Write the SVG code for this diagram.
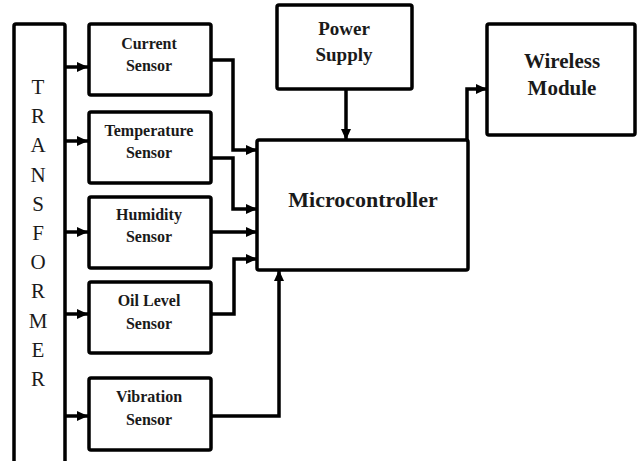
<svg xmlns="http://www.w3.org/2000/svg" width="640" height="461" viewBox="0 0 640 461">
<defs>
<marker id="ah" markerUnits="userSpaceOnUse" markerWidth="12" markerHeight="12" viewBox="0 0 12 12" refX="11" refY="6" orient="auto">
<path d="M0,1 L11,6 L0,11 Z" fill="#000"/>
</marker>
<style>
.box{fill:#fff;stroke:#000;stroke-width:3.5}
.w{fill:none;stroke:#000;stroke-width:3.5;marker-end:url(#ah)}
.t{font-family:"Liberation Serif","Times New Roman",serif;font-weight:bold;text-anchor:middle;fill:#1a1a1a}
.s{font-size:16px}
.tr{font-family:"Liberation Serif","Times New Roman",serif;font-size:21px;text-anchor:middle;fill:#1a1a1a}
</style>
</defs>
<rect width="640" height="461" fill="#fff"/>
<g id="connectors">
<path class="w" d="M65,67 H88"/>
<path class="w" d="M65,141 H88"/>
<path class="w" d="M65,232 H88"/>
<path class="w" d="M65,314 H88"/>
<path class="w" d="M65,416 H88"/>
<path class="w" d="M211,60 H233 V150 H257"/>
<path class="w" d="M211,158 H233 V209 H257"/>
<path class="w" d="M211,232 H257"/>
<path class="w" d="M211,314 H234 V259 H257"/>
<path class="w" d="M211,416 H279 V270"/>
<path class="w" d="M346,89 V140"/>
<path class="w" d="M467,140 V89 H487"/>
</g>
<g id="transformer">
<path class="box" d="M65,470 V26 Q65,24 63,24 H16 Q14,24 14,26 V470"/>
<text class="tr" x="38" y="94">T</text>
<text class="tr" x="38" y="123.2">R</text>
<text class="tr" x="38" y="152.4">A</text>
<text class="tr" x="38" y="181.6">N</text>
<text class="tr" x="38" y="210.8">S</text>
<text class="tr" x="38" y="240">F</text>
<text class="tr" x="38" y="269.2">O</text>
<text class="tr" x="38" y="298.4">R</text>
<text class="tr" x="38" y="327.6">M</text>
<text class="tr" x="38" y="356.8">E</text>
<text class="tr" x="38" y="386">R</text>
</g>
<g id="current-sensor">
<rect class="box" x="89" y="24" width="122" height="71" rx="2"/>
<text class="t s" x="149" y="49">Current</text>
<text class="t s" x="149" y="71">Sensor</text>
</g>
<g id="temperature-sensor">
<rect class="box" x="89" y="112" width="122" height="71" rx="2"/>
<text class="t s" x="149" y="136">Temperature</text>
<text class="t s" x="149" y="158">Sensor</text>
</g>
<g id="humidity-sensor">
<rect class="box" x="89" y="197" width="122" height="71" rx="2"/>
<text class="t s" x="149" y="220">Humidity</text>
<text class="t s" x="149" y="242">Sensor</text>
</g>
<g id="oil-level-sensor">
<rect class="box" x="89" y="282" width="122" height="71" rx="2"/>
<text class="t s" x="149" y="306">Oil Level</text>
<text class="t s" x="149" y="329">Sensor</text>
</g>
<g id="vibration-sensor">
<rect class="box" x="89" y="378" width="122" height="72" rx="2"/>
<text class="t s" x="149" y="402">Vibration</text>
<text class="t s" x="149" y="425">Sensor</text>
</g>
<g id="power-supply">
<rect class="box" x="277" y="5" width="135" height="84" rx="2"/>
<text class="t" x="344" y="35" font-size="19">Power</text>
<text class="t" x="344" y="61" font-size="19">Supply</text>
</g>
<g id="microcontroller">
<rect class="box" x="257" y="140" width="211" height="130" rx="2"/>
<text class="t" x="363" y="207" font-size="22">Microcontroller</text>
</g>
<g id="wireless-module">
<rect class="box" x="487" y="24" width="148" height="111" rx="2"/>
<text class="t" x="562" y="68" font-size="21">Wireless</text>
<text class="t" x="562" y="95" font-size="21">Module</text>
</g>
</svg>
